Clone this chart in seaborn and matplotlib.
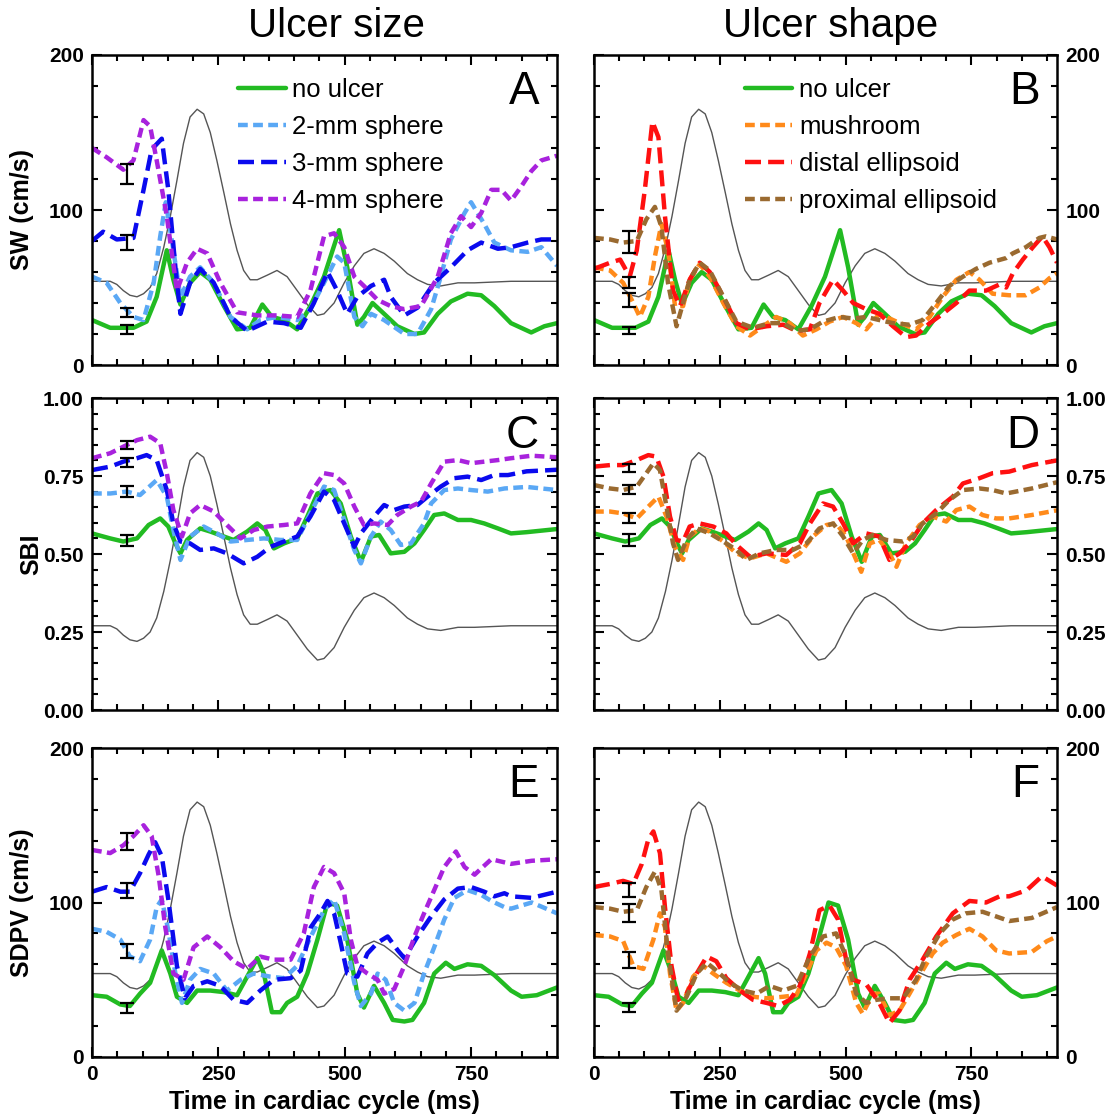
import numpy as np
import pandas as pd
import matplotlib
matplotlib.use("Agg")
import matplotlib.pyplot as plt
import seaborn as sns
from matplotlib.ticker import MultipleLocator, FormatStrFormatter
from matplotlib.lines import Line2D

sns.set_style("white")
plt.rcParams['font.family'] = ['Liberation Sans', 'DejaVu Sans']
plt.rcParams['font.weight'] = 'bold'
for k in ["text.color", "axes.labelcolor", "xtick.color", "ytick.color", "axes.edgecolor"]:
    plt.rcParams[k] = "black"

# ---------------- data ----------------
# flow waveform (gray reference curve, plotted on 0-200 scale)
flow_t = [0, 36, 49, 62, 75, 89, 102, 115, 128, 142, 155, 168, 181, 194, 208, 221, 234, 247, 261, 274,
          287, 300, 313, 327, 347, 366, 386, 406, 426, 446, 459, 479, 499, 519, 538, 558, 578, 598, 624,
          644, 664, 690, 724, 757, 829, 920]
flow_v = [54, 54, 52, 48, 45, 44, 46, 50, 59, 76, 96, 119, 143, 160, 165, 162, 150, 132, 111, 91,
          74, 61, 55, 55, 58, 61, 57, 48, 39, 32, 33, 40, 53, 64, 72, 75, 72, 67, 59,
          55, 52, 51, 53, 53, 54, 54]

# ---- SW (cm/s) ----
sw_none_t = [0, 36, 82, 108, 128, 148, 161, 175, 194, 214, 234, 261, 287, 313, 337, 356, 380, 406, 432, 459,
             489, 505, 525, 538, 555, 578, 604, 638, 657, 684, 710, 743, 770, 796, 829, 869, 895, 920]
sw_none_v = [29, 24, 24, 28, 44, 74, 55, 39, 53, 60, 55, 38, 23, 24, 39, 31, 29, 23, 38, 57,
             87, 63, 26, 31, 40, 33, 25, 20, 21, 33, 41, 46, 45, 38, 27, 21, 25, 27]

sw_2mm_t = [0, 29, 56, 82, 102, 122, 135, 146, 161, 175, 194, 214, 241, 274, 307, 333, 366, 406, 432, 459,
            485, 499, 519, 535, 552, 578, 618, 644, 671, 690, 710, 737, 750, 776, 796, 829, 862, 889, 920]
sw_2mm_v = [57, 53, 40, 31, 29, 53, 83, 105, 74, 44, 57, 63, 53, 31, 23, 29, 31, 29, 36, 53,
            70, 66, 31, 25, 33, 29, 20, 20, 36, 57, 81, 98, 105, 91, 79, 74, 73, 76, 64]

sw_3mm_t = [0, 22, 49, 82, 102, 118, 138, 151, 165, 175, 194, 214, 241, 274, 307, 347, 380, 413, 439, 466,
            485, 505, 525, 552, 578, 591, 618, 644, 677, 710, 743, 770, 803, 829, 862, 889, 920]
sw_3mm_v = [80, 86, 81, 82, 113, 139, 146, 113, 63, 33, 53, 62, 53, 31, 22, 28, 27, 24, 40, 60,
            48, 33, 44, 51, 55, 44, 32, 37, 53, 63, 74, 79, 75, 76, 79, 81, 81]

sw_4mm_t = [0, 29, 62, 82, 102, 115, 128, 148, 168, 188, 208, 228, 254, 287, 327, 366, 406, 432, 459, 479,
            499, 519, 538, 565, 591, 618, 651, 684, 710, 730, 750, 770, 790, 810, 829, 849, 869, 889, 920]
sw_4mm_v = [140, 134, 126, 132, 158, 154, 132, 96, 48, 66, 75, 72, 53, 34, 32, 32, 31, 48, 83, 85,
            76, 57, 51, 42, 38, 36, 38, 57, 85, 96, 89, 98, 113, 113, 106, 115, 125, 132, 135]

sw_mush_t = [0, 32, 58, 78, 91, 108, 121, 134, 147, 161, 177, 190, 210, 230, 257, 283, 310, 336, 362, 389,
             415, 442, 468, 495, 521, 541, 567, 601, 640, 667, 693, 720, 746, 766, 792, 825, 858, 885, 905, 920]
sw_mush_v = [63, 61, 53, 40, 31, 44, 70, 91, 74, 38, 38, 55, 65, 57, 40, 25, 19, 25, 31, 27,
             19, 23, 28, 31, 27, 23, 33, 28, 23, 31, 44, 55, 60, 55, 46, 45, 45, 50, 56, 59]

sw_dist_t = [0, 32, 52, 71, 85, 101, 116, 128, 141, 157, 171, 190, 210, 230, 257, 283, 310, 343, 376, 402,
             429, 448, 475, 495, 515, 541, 567, 594, 620, 640, 667, 693, 720, 746, 779, 806, 819, 832, 852,
             872, 891, 905, 920]
sw_dist_v = [62, 66, 68, 57, 74, 113, 157, 147, 96, 48, 38, 55, 66, 60, 44, 27, 23, 25, 26, 22,
             23, 40, 55, 48, 40, 36, 33, 25, 18, 19, 27, 33, 40, 48, 48, 52, 50, 59, 68,
             76, 83, 76, 66]

sw_prox_t = [0, 32, 58, 85, 104, 121, 134, 147, 164, 177, 190, 210, 230, 257, 283, 316, 349, 376, 402, 429,
             455, 488, 515, 541, 567, 594, 627, 653, 680, 706, 733, 759, 786, 819, 832, 858, 885, 898, 920]
sw_prox_v = [82, 81, 79, 80, 94, 102, 89, 53, 25, 40, 55, 66, 61, 44, 28, 24, 27, 27, 22, 23,
             28, 31, 30, 31, 29, 27, 26, 29, 40, 51, 57, 62, 66, 69, 72, 76, 82, 83, 81]

# ---- SBI ----
sbi_none_t = [0, 36, 62, 89, 112, 135, 151, 165, 175, 188, 214, 234, 261, 280, 307, 327, 343, 360, 380, 406,
              426, 446, 472, 492, 512, 532, 552, 568, 591, 618, 638, 657, 677, 697, 724, 750, 776, 803, 829,
              860, 890, 920]
sbi_none_v = [0.566, 0.550, 0.540, 0.550, 0.593, 0.614, 0.588, 0.534, 0.502, 0.545, 0.582, 0.572, 0.556,
              0.545, 0.572, 0.598, 0.577, 0.518, 0.534, 0.550, 0.620, 0.694, 0.705, 0.662, 0.556, 0.475,
              0.556, 0.561, 0.502, 0.507, 0.534, 0.577, 0.625, 0.630, 0.609, 0.609, 0.598, 0.582, 0.566,
              0.570, 0.575, 0.580]

sbi_2mm_t = [0, 36, 69, 95, 128, 148, 161, 175, 194, 221, 247, 274, 307, 340, 373, 406, 432, 459, 479, 499,
             519, 532, 552, 571, 591, 611, 631, 657, 671, 697, 724, 750, 783, 816, 860, 920]
sbi_2mm_v = [0.694, 0.694, 0.700, 0.689, 0.737, 0.684, 0.577, 0.481, 0.556, 0.588, 0.566, 0.540, 0.545,
             0.550, 0.545, 0.545, 0.630, 0.716, 0.705, 0.609, 0.513, 0.470, 0.556, 0.604, 0.577, 0.529,
             0.534, 0.598, 0.662, 0.705, 0.710, 0.705, 0.700, 0.710, 0.715, 0.705]

sbi_3mm_t = [0, 36, 62, 89, 108, 128, 148, 161, 175, 194, 214, 241, 267, 300, 327, 353, 380, 406, 432, 459,
             479, 499, 519, 532, 558, 578, 598, 618, 644, 664, 690, 717, 743, 770, 796, 823, 860, 920]
sbi_3mm_v = [0.769, 0.780, 0.796, 0.807, 0.817, 0.801, 0.705, 0.598, 0.540, 0.534, 0.513, 0.518, 0.502,
             0.470, 0.491, 0.523, 0.540, 0.556, 0.620, 0.700, 0.673, 0.598, 0.523, 0.566, 0.620, 0.657,
             0.641, 0.652, 0.657, 0.684, 0.716, 0.743, 0.748, 0.737, 0.753, 0.753, 0.765, 0.770]

sbi_4mm_t = [0, 36, 62, 89, 115, 135, 148, 161, 178, 194, 214, 241, 267, 294, 320, 347, 380, 406, 432, 459,
             479, 499, 519, 538, 558, 585, 604, 631, 651, 671, 697, 724, 750, 776, 803, 829, 870, 920]
sbi_4mm_v = [0.807, 0.823, 0.844, 0.865, 0.876, 0.855, 0.759, 0.641, 0.556, 0.630, 0.657, 0.636, 0.593,
             0.550, 0.577, 0.588, 0.593, 0.598, 0.694, 0.759, 0.753, 0.726, 0.652, 0.593, 0.598, 0.593,
             0.625, 0.652, 0.668, 0.726, 0.796, 0.801, 0.791, 0.796, 0.801, 0.807, 0.815, 0.810]

sbi_mush_t = [0, 32, 58, 85, 108, 128, 144, 161, 177, 190, 210, 230, 257, 283, 310, 343, 382, 409, 435, 462,
              481, 501, 521, 531, 548, 567, 587, 601, 620, 647, 673, 700, 720, 746, 772, 799, 825, 870, 920]
sbi_mush_v = [0.636, 0.636, 0.630, 0.614, 0.652, 0.684, 0.620, 0.523, 0.481, 0.556, 0.582, 0.572, 0.540,
              0.502, 0.486, 0.502, 0.475, 0.502, 0.556, 0.593, 0.598, 0.556, 0.481, 0.443, 0.534, 0.545,
              0.502, 0.459, 0.534, 0.593, 0.620, 0.604, 0.641, 0.652, 0.625, 0.614, 0.614, 0.625, 0.640]

sbi_dist_t = [0, 32, 58, 85, 108, 124, 138, 151, 164, 177, 190, 210, 237, 263, 283, 310, 343, 382, 409, 429,
              455, 475, 495, 515, 541, 567, 587, 607, 627, 653, 680, 713, 733, 766, 792, 825, 870, 920]
sbi_dist_v = [0.780, 0.785, 0.785, 0.801, 0.817, 0.812, 0.748, 0.620, 0.545, 0.540, 0.588, 0.598, 0.588,
              0.566, 0.529, 0.491, 0.502, 0.497, 0.534, 0.598, 0.662, 0.652, 0.598, 0.534, 0.566, 0.556,
              0.481, 0.502, 0.534, 0.598, 0.641, 0.684, 0.726, 0.743, 0.759, 0.764, 0.785, 0.800]

sbi_prox_t = [0, 32, 58, 85, 104, 118, 131, 144, 157, 167, 184, 204, 230, 257, 283, 303, 329, 362, 395, 422,
              448, 475, 495, 515, 534, 554, 581, 614, 634, 653, 680, 706, 733, 766, 792, 819, 870, 920]
sbi_prox_v = [0.721, 0.710, 0.705, 0.716, 0.759, 0.791, 0.769, 0.652, 0.534, 0.481, 0.545, 0.582, 0.566,
              0.540, 0.513, 0.481, 0.502, 0.513, 0.513, 0.534, 0.582, 0.598, 0.556, 0.502, 0.545, 0.561,
              0.545, 0.540, 0.556, 0.598, 0.630, 0.673, 0.705, 0.710, 0.705, 0.694, 0.710, 0.730]

# ---- SDPV (cm/s) ----
sdpv_none_t = [0, 29, 56, 75, 95, 115, 138, 155, 168, 188, 208, 234, 261, 287, 307, 327, 340, 356, 373, 386,
               406, 426, 446, 466, 485, 505, 525, 538, 558, 578, 595, 618, 634, 657, 677, 700, 717, 743, 770,
               796, 829, 850, 880, 920]
sdpv_none_v = [40, 39, 34, 33, 41, 48, 69, 54, 39, 35, 43, 43, 42, 40, 52, 64, 54, 29, 29, 35,
               39, 54, 76, 100, 98, 76, 41, 32, 46, 35, 24, 23, 24, 35, 54, 61, 57, 60, 59,
               53, 43, 39, 40, 45]

sdpv_2mm_t = [0, 29, 56, 75, 95, 115, 128, 138, 151, 165, 178, 194, 214, 241, 267, 294, 320, 353, 380, 406,
              433, 459, 479, 499, 519, 532, 552, 565, 581, 598, 618, 638, 657, 677, 697, 717, 743, 770, 790,
              816, 829, 870, 920]
sdpv_2mm_v = [83, 81, 76, 65, 62, 76, 97, 102, 82, 54, 35, 50, 57, 54, 43, 50, 54, 52, 51, 59,
              78, 95, 102, 80, 48, 33, 41, 54, 50, 35, 30, 35, 54, 71, 89, 103, 108, 105, 101,
              97, 96, 100, 93]

sdpv_3mm_t = [0, 29, 56, 75, 95, 112, 125, 138, 151, 168, 184, 201, 228, 254, 280, 307, 333, 360, 393, 413,
              433, 452, 466, 479, 492, 505, 525, 545, 565, 585, 605, 618, 644, 671, 697, 724, 750, 776, 796,
              816, 829, 870, 920]
sdpv_3mm_v = [107, 110, 107, 107, 119, 131, 139, 130, 102, 59, 38, 46, 49, 46, 37, 35, 43, 50, 51, 56,
              84, 93, 101, 93, 74, 54, 52, 67, 74, 78, 69, 64, 78, 91, 102, 109, 110, 107, 104,
              106, 104, 103, 107]

sdpv_4mm_t = [0, 36, 62, 82, 102, 118, 132, 145, 161, 181, 201, 228, 254, 280, 307, 333, 360, 393, 419, 439,
              459, 479, 499, 512, 525, 545, 565, 578, 598, 618, 638, 657, 677, 697, 720, 737, 757, 770, 790,
              816, 829, 870, 920]
sdpv_4mm_v = [134, 132, 137, 143, 150, 143, 117, 84, 54, 50, 71, 78, 71, 62, 57, 65, 63, 63, 80, 110,
              123, 119, 106, 76, 59, 54, 50, 41, 44, 59, 78, 93, 108, 123, 133, 123, 118, 122, 128,
              126, 125, 127, 128]

sdpv_mush_t = [0, 32, 58, 78, 98, 118, 131, 141, 151, 164, 177, 197, 217, 237, 263, 290, 316, 343, 376, 402,
               422, 442, 462, 481, 501, 521, 534, 554, 567, 587, 607, 627, 653, 673, 693, 720, 746, 772, 799,
               825, 870, 900, 920]
sdpv_mush_v = [79, 78, 75, 59, 57, 76, 93, 84, 54, 30, 35, 52, 59, 54, 48, 43, 39, 38, 39, 40,
               54, 69, 74, 71, 59, 35, 28, 41, 41, 27, 30, 41, 56, 67, 74, 79, 83, 78, 69,
               67, 68, 75, 78]

sdpv_dist_t = [0, 32, 58, 78, 95, 108, 118, 131, 141, 154, 167, 184, 204, 224, 243, 263, 290, 316, 343, 366,
               389, 409, 429, 448, 468, 485, 501, 515, 541, 554, 567, 587, 607, 627, 653, 680, 713, 746, 779,
               806, 825, 860, 890, 920]
sdpv_dist_v = [110, 112, 114, 112, 125, 141, 146, 132, 97, 59, 37, 41, 54, 65, 62, 51, 43, 37, 35, 33,
               37, 46, 67, 95, 98, 89, 63, 50, 47, 41, 35, 22, 30, 50, 63, 78, 93, 101, 100,
               104, 104, 108, 117, 111]

sdpv_prox_t = [0, 32, 58, 85, 104, 121, 134, 147, 164, 184, 204, 224, 243, 270, 296, 323, 349, 376, 402, 429,
               455, 481, 501, 521, 541, 561, 587, 614, 640, 660, 687, 713, 739, 772, 799, 825, 870, 920]
sdpv_prox_v = [97, 96, 94, 95, 110, 120, 108, 67, 30, 39, 54, 61, 56, 48, 43, 41, 46, 43, 46, 65,
               78, 80, 65, 41, 35, 37, 38, 38, 50, 65, 80, 89, 93, 94, 91, 88, 90, 97]

# error bars (mean, sd) at t = errbar_t
errbar_t = 70
eb_A_mean = [23, 34, 79, 123];         eb_A_err = [3, 3, 5, 6.5]
eb_B_mean = [22, 42, 53.5, 79.5];      eb_B_err = [2.2, 4.7, 3.5, 7]
eb_C_mean = [0.543, 0.70, 0.793, 0.848]; eb_C_err = [0.018, 0.018, 0.015, 0.013]
eb_D_mean = [0.545, 0.614, 0.707, 0.777]; eb_D_err = [0.019, 0.016, 0.015, 0.013]
eb_E_mean = [31.7, 68.5, 108, 139.4];  eb_E_err = [3, 4.6, 4.9, 5.4]
eb_F_mean = [32, 62.8, 93.2, 108.3];   eb_F_err = [2.7, 5, 5.6, 4.5]

size_labels = ["no ulcer", "2-mm sphere", "3-mm sphere", "4-mm sphere"]
shape_labels = ["no ulcer", "mushroom", "distal ellipsoid", "proximal ellipsoid"]
column_titles = ["Ulcer size", "Ulcer shape"]
row_ylabels = ["SW (cm/s)", "SBI", "SDPV (cm/s)"]
x_label = "Time in cardiac cycle (ms)"
x_ticks = [0, 250, 500, 750]

# ---------------- styles ----------------
LW = 3.2
SHORT = (0, (2.2, 1.2))
LONG = (0, (3.6, 1.6))
style = {
    "no ulcer": dict(color="#22bb22", linestyle="-"),
    "2-mm sphere": dict(color="#5aa8f5", linestyle=SHORT),
    "3-mm sphere": dict(color="#0a0aee", linestyle=LONG),
    "4-mm sphere": dict(color="#a822dd", linestyle=SHORT),
    "mushroom": dict(color="#ff8a1a", linestyle=SHORT),
    "distal ellipsoid": dict(color="#ff1010", linestyle=LONG),
    "proximal ellipsoid": dict(color="#9a6a30", linestyle=SHORT),
}

panels = [
    dict(letter="A", labels=size_labels,
         series=[(sw_none_t, sw_none_v), (sw_2mm_t, sw_2mm_v), (sw_3mm_t, sw_3mm_v), (sw_4mm_t, sw_4mm_v)],
         eb=(eb_A_mean, eb_A_err), kind="vel", row=0, col=0),
    dict(letter="B", labels=shape_labels,
         series=[(sw_none_t, sw_none_v), (sw_mush_t, sw_mush_v), (sw_dist_t, sw_dist_v), (sw_prox_t, sw_prox_v)],
         eb=(eb_B_mean, eb_B_err), kind="vel", row=0, col=1),
    dict(letter="C", labels=size_labels,
         series=[(sbi_none_t, sbi_none_v), (sbi_2mm_t, sbi_2mm_v), (sbi_3mm_t, sbi_3mm_v), (sbi_4mm_t, sbi_4mm_v)],
         eb=(eb_C_mean, eb_C_err), kind="sbi", row=1, col=0),
    dict(letter="D", labels=shape_labels,
         series=[(sbi_none_t, sbi_none_v), (sbi_mush_t, sbi_mush_v), (sbi_dist_t, sbi_dist_v), (sbi_prox_t, sbi_prox_v)],
         eb=(eb_D_mean, eb_D_err), kind="sbi", row=1, col=1),
    dict(letter="E", labels=size_labels,
         series=[(sdpv_none_t, sdpv_none_v), (sdpv_2mm_t, sdpv_2mm_v), (sdpv_3mm_t, sdpv_3mm_v), (sdpv_4mm_t, sdpv_4mm_v)],
         eb=(eb_E_mean, eb_E_err), kind="vel", row=2, col=0),
    dict(letter="F", labels=shape_labels,
         series=[(sdpv_none_t, sdpv_none_v), (sdpv_mush_t, sdpv_mush_v), (sdpv_dist_t, sdpv_dist_v), (sdpv_prox_t, sdpv_prox_v)],
         eb=(eb_F_mean, eb_F_err), kind="vel", row=2, col=1),
]

# ---------------- layout ----------------
W, H = 1115, 1120
fig = plt.figure(figsize=(W / 100, H / 100), dpi=100)
fig.patch.set_facecolor("white")

col_x = [(92, 465), (594, 463)]
row_y = [(55, 365), (398, 710), (748, 1057)]
ylabel_x = [-0.125, -0.105, -0.125]

for p in panels:
    x0, w = col_x[p["col"]]
    top, bot = row_y[p["row"]]
    ax = fig.add_axes([x0 / W, 1 - bot / H, w / W, (bot - top) / H])

    # flow waveform on hidden twin axis (0-200 scale)
    tw = ax.twinx()
    sns.lineplot(x=flow_t, y=flow_v, ax=tw, color="#555555", linewidth=1.0, legend=False)
    tw.set_ylim(0, 200)
    tw.axis("off")
    ax.set_zorder(tw.get_zorder() + 1)
    ax.patch.set_visible(False)

    handles = []
    for name, (t, v) in zip(p["labels"], p["series"]):
        st = style[name]
        sns.lineplot(x=t, y=v, ax=ax, color=st["color"], linestyle=st["linestyle"],
                     linewidth=LW, legend=False)
        handles.append(Line2D([], [], color=st["color"], linestyle=st["linestyle"], linewidth=LW))

    m, e = p["eb"]
    ax.errorbar([errbar_t] * len(m), m, yerr=e, fmt="none", ecolor="black",
                elinewidth=1.6, capsize=5, capthick=1.6, zorder=10)

    ax.set_xlim(0, 920)
    ax.xaxis.set_major_locator(MultipleLocator(250))
    ax.xaxis.set_minor_locator(MultipleLocator(50))
    if p["kind"] == "vel":
        ax.set_ylim(0, 200)
        ax.yaxis.set_major_locator(MultipleLocator(100))
        ax.yaxis.set_minor_locator(MultipleLocator(20))
        ax.yaxis.set_major_formatter(FormatStrFormatter("%d"))
    else:
        ax.set_ylim(0, 1.0)
        ax.yaxis.set_major_locator(MultipleLocator(0.25))
        ax.yaxis.set_minor_locator(MultipleLocator(0.05))
        ax.yaxis.set_major_formatter(FormatStrFormatter("%.2f"))
    ax.set_xticks(x_ticks)

    right = p["col"] == 1
    bottom_row = p["row"] == 2
    ax.tick_params(which="both", direction="in", top=True, bottom=True, left=True, right=True,
                   width=1.5, labelsize=15, labelleft=not right, labelright=right,
                   labelbottom=bottom_row, pad=6, colors="black")
    ax.tick_params(which="major", length=7)
    ax.tick_params(which="minor", length=4.5)
    for s in ax.spines.values():
        s.set_linewidth(1.8)
        s.set_color("black")
        s.set_visible(True)

    ax.set_xlabel(x_label if bottom_row else "", fontsize=18, fontweight="bold", labelpad=4)
    if not right:
        ax.set_ylabel(row_ylabels[p["row"]], fontsize=18, fontweight="bold")
        ax.yaxis.set_label_coords(ylabel_x[p["row"]], 0.5)
    else:
        ax.set_ylabel("")

    ax.text(0.962, 0.95, p["letter"], transform=ax.transAxes, ha="right", va="top",
            fontsize=33, fontweight="normal", color="black")

    if p["row"] == 0:
        lx = 0.314 if not right else 0.326
        leg = ax.legend(handles, p["labels"], loc="upper left", bbox_to_anchor=(lx, 0.925),
                        frameon=False, prop={"size": 18.5, "weight": "normal"},
                        handlelength=1.85, handletextpad=0.25, labelspacing=0.5,
                        borderpad=0, borderaxespad=0)
        for txt in leg.get_texts():
            txt.set_color("black")

fig.text(336 / W, 1 - 26 / H, column_titles[0], ha="center", va="center", fontsize=29,
         fontweight="normal", color="black")
fig.text(831 / W, 1 - 26 / H, column_titles[1], ha="center", va="center", fontsize=29,
         fontweight="normal", color="black")

fig.savefig("out.png", dpi=100, facecolor="white")
